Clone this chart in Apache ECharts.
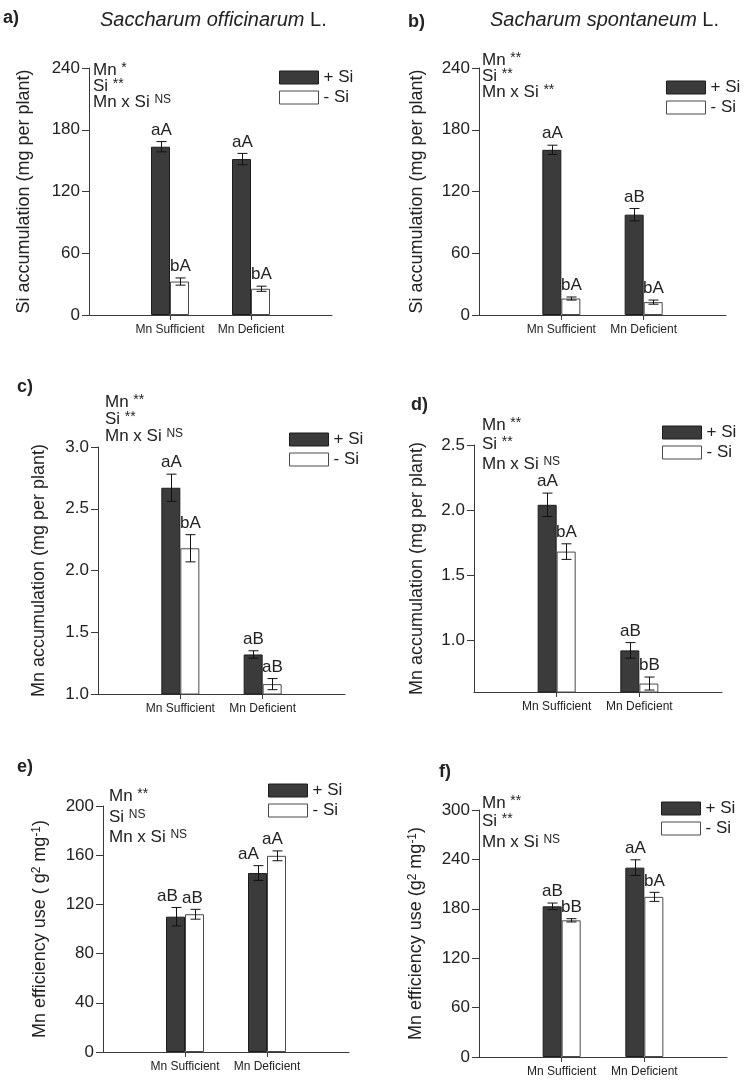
<!DOCTYPE html>
<html>
<head>
<meta charset="utf-8">
<script src="https://cdn.jsdelivr.net/npm/echarts@6/dist/echarts.min.js"></script>
<style>
  html, body { margin: 0; padding: 0; background: #fff; }
  #chart { width: 749px; height: 1086px; }
</style>
</head>
<body>
<div id="chart"></div>
<script>
const categories = ["Mn Sufficient", "Mn Deficient"];
const seriesNames = ["+ Si", "- Si"];

// a) Si accumulation, S. officinarum
const siAccOffPlus = [163.5, 151.5];
const siAccOffPlusErr = [5, 5.5];
const siAccOffMinus = [32.5, 25.5];
const siAccOffMinusErr = [3.5, 2.5];
const siAccOffPlusLetters = ["aA", "aA"];
const siAccOffMinusLetters = ["bA", "bA"];

// b) Si accumulation, S. spontaneum
const siAccSponPlus = [160.5, 97.5];
const siAccSponPlusErr = [4.5, 6];
const siAccSponMinus = [16, 12.5];
const siAccSponMinusErr = [1.5, 2];
const siAccSponPlusLetters = ["aA", "aB"];
const siAccSponMinusLetters = ["bA", "bA"];

// c) Mn accumulation, S. officinarum
const mnAccOffPlus = [2.67, 1.32];
const mnAccOffPlusErr = [0.11, 0.03];
const mnAccOffMinus = [2.18, 1.08];
const mnAccOffMinusErr = [0.11, 0.045];
const mnAccOffPlusLetters = ["aA", "aB"];
const mnAccOffMinusLetters = ["bA", "aB"];

// d) Mn accumulation, S. spontaneum
const mnAccSponPlus = [2.04, 0.92];
const mnAccSponPlusErr = [0.09, 0.06];
const mnAccSponMinus = [1.68, 0.665];
const mnAccSponMinusErr = [0.06, 0.05];
const mnAccSponPlusLetters = ["aA", "aB"];
const mnAccSponMinusLetters = ["bA", "bB"];

// e) Mn efficiency use, S. officinarum
const mnEffOffPlus = [110, 145.5];
const mnEffOffPlusErr = [7.5, 6];
const mnEffOffMinus = [112, 159.5];
const mnEffOffMinusErr = [4, 4];
const mnEffOffPlusLetters = ["aB", "aA"];
const mnEffOffMinusLetters = ["aB", "aA"];

// f) Mn efficiency use, S. spontaneum
const mnEffSponPlus = [183, 230];
const mnEffSponPlusErr = [4, 9.5];
const mnEffSponMinus = [166, 194.5];
const mnEffSponMinusErr = [2, 5.5];
const mnEffSponPlusLetters = ["aB", "aA"];
const mnEffSponMinusLetters = ["bB", "bA"];

// y tick values
const ticksSiAcc = [0, 60, 120, 180, 240];
const ticksMnAccOff = [1.0, 1.5, 2.0, 2.5, 3.0];
const ticksMnAccSpon = [1.0, 1.5, 2.0, 2.5];
const ticksMnEffOff = [0, 40, 80, 120, 160, 200];
const ticksMnEffSpon = [0, 60, 120, 180, 240, 300];

// ANOVA annotations [text, superscript]
const anovaA = [["Mn", "*"], ["Si", "**"], ["Mn x Si", "NS"]];
const anovaB = [["Mn", "**"], ["Si", "**"], ["Mn x Si", "**"]];
const anovaC = [["Mn", "**"], ["Si", "**"], ["Mn x Si", "NS"]];
const anovaD = [["Mn", "**"], ["Si", "**"], ["Mn x Si", "NS"]];
const anovaE = [["Mn", "**"], ["Si", "NS"], ["Mn x Si", "NS"]];
const anovaF = [["Mn", "**"], ["Si", "**"], ["Mn x Si", "NS"]];

const FONT = "Liberation Sans, Arial, Helvetica, sans-serif";
const TEXT = "#222";
const AXIS = "#3a3a3a";
const DARK = "#3b3b3b";
const BAR_W = 19;

const panels = [
  {
    label: "a)", labelPos: [3, 9],
    grid: { left: 89, top: 68, width: 243, height: 247 },
    ticks: ticksSiAcc, yName: "Si accumulation (mg per plant)", nameGap: 56,
    plus: siAccOffPlus, plusErr: siAccOffPlusErr, minus: siAccOffMinus, minusErr: siAccOffMinusErr,
    plusLetters: siAccOffPlusLetters, minusLetters: siAccOffMinusLetters,
    anova: anovaA, anovaPos: [93, [70, 86, 102]], legendPos: [279, 69],
  },
  {
    label: "b)", labelPos: [408, 13],
    grid: { left: 479, top: 68, width: 247, height: 247 },
    ticks: ticksSiAcc, yName: "Si accumulation (mg per plant)", nameGap: 53,
    plus: siAccSponPlus, plusErr: siAccSponPlusErr, minus: siAccSponMinus, minusErr: siAccSponMinusErr,
    plusLetters: siAccSponPlusLetters, minusLetters: siAccSponMinusLetters,
    anova: anovaB, anovaPos: [482, [60, 76, 92]], legendPos: [666, 79],
  },
  {
    label: "c)", labelPos: [17, 378],
    grid: { left: 98, top: 447, width: 247, height: 247 },
    ticks: ticksMnAccOff, yName: "Mn accumulation (mg per plant)", nameGap: 50, decimals: 1,
    plus: mnAccOffPlus, plusErr: mnAccOffPlusErr, minus: mnAccOffMinus, minusErr: mnAccOffMinusErr,
    plusLetters: mnAccOffPlusLetters, minusLetters: mnAccOffMinusLetters,
    anova: anovaC, anovaPos: [105, [402, 419, 436]], legendPos: [289, 431],
  },
  {
    label: "d)", labelPos: [411, 396],
    grid: { left: 474, top: 445, width: 248, height: 247 },
    ticks: ticksMnAccSpon, yMin: 0.6, yName: "Mn accumulation (mg per plant)", nameGap: 48, decimals: 1,
    plus: mnAccSponPlus, plusErr: mnAccSponPlusErr, minus: mnAccSponMinus, minusErr: mnAccSponMinusErr,
    plusLetters: mnAccSponPlusLetters, minusLetters: mnAccSponMinusLetters,
    anova: anovaD, anovaPos: [482, [425, 444, 464]], legendPos: [662, 424],
  },
  {
    label: "e)", labelPos: [17, 758],
    grid: { left: 103, top: 806, width: 246, height: 246 },
    ticks: ticksMnEffOff, yName: "Mn efficiency use ( g{s|2} mg{s|-1})", nameGap: 54,
    plus: mnEffOffPlus, plusErr: mnEffOffPlusErr, minus: mnEffOffMinus, minusErr: mnEffOffMinusErr,
    plusLetters: mnEffOffPlusLetters, minusLetters: mnEffOffMinusLetters,
    labelDx: [[-9, -10], [-3, -5]],
    anova: anovaE, anovaPos: [109, [796, 817, 837]], legendPos: [268, 782],
  },
  {
    label: "f)", labelPos: [439, 763],
    grid: { left: 479, top: 810, width: 248, height: 247 },
    ticks: ticksMnEffSpon, yName: "Mn efficiency use (g{s|2} mg{s|-1})", nameGap: 54,
    plus: mnEffSponPlus, plusErr: mnEffSponPlusErr, minus: mnEffSponMinus, minusErr: mnEffSponMinusErr,
    plusLetters: mnEffSponPlusLetters, minusLetters: mnEffSponMinusLetters,
    anova: anovaF, anovaPos: [482, [803, 821, 842]], legendPos: [661, 800],
  },
];

const xCats = ["", ...categories, ""];
const grids = [], xAxes = [], yAxes = [], series = [], legends = [], titles = [], graphics = [];

titles.push({
  text: "{i|Saccharum officinarum} L.", left: 100, top: 10, padding: 0,
  textStyle: { fontFamily: FONT, fontSize: 20, fontWeight: "normal", color: TEXT,
    rich: { i: { fontFamily: FONT, fontSize: 20, fontStyle: "italic", color: TEXT } } },
});
titles.push({
  text: "{i|Sacharum spontaneum} L.", left: 490, top: 10, padding: 0,
  textStyle: { fontFamily: FONT, fontSize: 20, fontWeight: "normal", color: TEXT,
    rich: { i: { fontFamily: FONT, fontSize: 20, fontStyle: "italic", color: TEXT } } },
});

panels.forEach((p, i) => {
  grids.push(p.grid);
  const showCat = (idx, v) => v !== "";
  xAxes.push({
    type: "category", gridIndex: i, data: xCats, boundaryGap: false,
    axisLine: { lineStyle: { color: AXIS, width: 1 } },
    axisTick: { interval: showCat, length: 5, lineStyle: { color: AXIS } },
    axisLabel: { interval: showCat, fontFamily: FONT, fontSize: 12, color: TEXT, margin: 9 },
    splitLine: { show: false },
  });
  const tmin = p.yMin !== undefined ? p.yMin : p.ticks[0];
  yAxes.push({
    type: "value", gridIndex: i,
    min: tmin, max: p.ticks[p.ticks.length - 1],
    axisLine: { show: true, lineStyle: { color: AXIS, width: 1 } },
    axisTick: { show: true, length: 7, customValues: p.ticks, lineStyle: { color: AXIS } },
    axisLabel: {
      customValues: p.ticks, fontFamily: FONT, fontSize: 17, color: TEXT, margin: 9,
      formatter: (v) => (p.decimals ? Number(v).toFixed(p.decimals) : String(v)),
    },
    splitLine: { show: false },
    name: p.yName, nameLocation: "middle", nameGap: p.nameGap, nameRotate: 90,
    nameTextStyle: { fontFamily: FONT, fontSize: 18, color: TEXT,
      rich: { s: { fontFamily: FONT, fontSize: 12, color: TEXT, verticalAlign: "top" } } },
  });

  series.push({
    type: "bar", name: seriesNames[0], xAxisIndex: i, yAxisIndex: i,
    data: [null, ...p.plus, null], barWidth: BAR_W, barGap: "0%", clip: true,
    itemStyle: { color: DARK, borderColor: "#1c1c1c", borderWidth: 1 },
  });
  series.push({
    type: "bar", name: seriesNames[1], xAxisIndex: i, yAxisIndex: i,
    data: [null, ...p.minus, null], barWidth: BAR_W, barGap: "0%", clip: true,
    itemStyle: { color: "#ffffff", borderColor: "#4a4a4a", borderWidth: 1 },
  });

  const errData = [];
  const letters = [];
  const dx = [];
  categories.forEach((c, k) => {
    errData.push([k + 1, p.plus[k], p.plusErr[k], -1]);
    letters.push(p.plusLetters[k]);
    dx.push(p.labelDx ? p.labelDx[0][k] : 0);
    errData.push([k + 1, p.minus[k], p.minusErr[k], 1]);
    letters.push(p.minusLetters[k]);
    dx.push(p.labelDx ? p.labelDx[1][k] : 0);
  });
  series.push({
    type: "custom", xAxisIndex: i, yAxisIndex: i, z: 10, silent: true,
    data: errData,
    renderItem: (params, api) => {
      const idx = api.value(0), mean = api.value(1), err = api.value(2), side = api.value(3);
      const c = api.coord([idx, mean]);
      const x = Math.round(c[0] + side * BAR_W / 2) + 0.5;
      const top = api.coord([idx, mean + err])[1];
      const bot = api.coord([idx, mean - err])[1];
      const ls = { stroke: "#111", lineWidth: 1 };
      return {
        type: "group",
        children: [
          { type: "line", shape: { x1: x, y1: top, x2: x, y2: bot }, style: ls },
          { type: "line", shape: { x1: x - 5, y1: top, x2: x + 5, y2: top }, style: ls },
          { type: "line", shape: { x1: x - 5, y1: bot, x2: x + 5, y2: bot }, style: ls },
          { type: "text", style: { text: letters[params.dataIndex], x: x + dx[params.dataIndex], y: top - 3,
              align: "center", verticalAlign: "bottom", fontFamily: FONT, fontSize: 17, fill: TEXT } },
        ],
      };
    },
  });

  legends.push({
    orient: "vertical", left: p.legendPos[0], top: p.legendPos[1], padding: 0,
    itemWidth: 39, itemHeight: 13, itemGap: 3, selectedMode: false, icon: "rect",
    itemStyle: { borderWidth: 1 },
    textStyle: { fontFamily: FONT, fontSize: 17, color: TEXT },
    data: seriesNames,
  });

  titles.push({
    text: p.label, left: p.labelPos[0], top: p.labelPos[1], padding: 0,
    textStyle: { fontFamily: FONT, fontSize: 18, fontWeight: "bold", color: TEXT },
  });

  p.anova.forEach((line, k) => {
    const supSize = line[1] === "NS" ? 12 : 14;
    graphics.push({
      type: "text", x: p.anovaPos[0], y: p.anovaPos[1][k], silent: true,
      style: {
        text: line[0] + " {s|" + line[1] + "}",
        fontFamily: FONT, fontSize: 17, fill: TEXT, verticalAlign: "middle",
        rich: { s: { fontFamily: FONT, fontSize: supSize, fill: TEXT, verticalAlign: "top" } },
      },
    });
  });
});

const chart = echarts.init(document.getElementById("chart"));
chart.setOption({
  animation: false,
  backgroundColor: "#fff",
  title: titles,
  grid: grids,
  xAxis: xAxes,
  yAxis: yAxes,
  legend: legends,
  series: series,
  graphic: graphics,
});
</script>
</body>
</html>
